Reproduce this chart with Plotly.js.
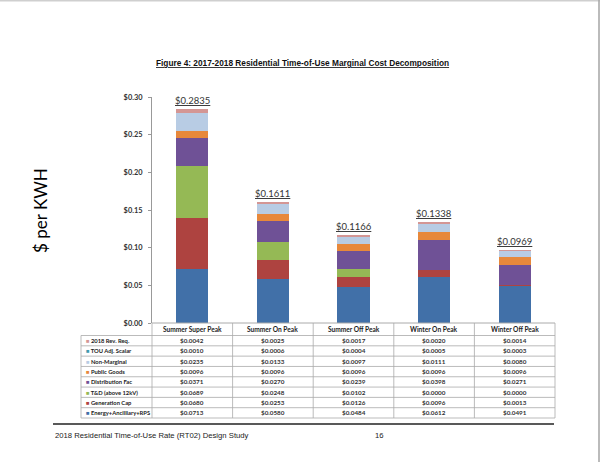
<!DOCTYPE html>
<html>
<head>
<meta charset="utf-8">
<script src="https://cdn.plot.ly/plotly-3.0.1.min.js"></script>
<style>
html,body{margin:0;padding:0;background:#fff;}
#chart{width:600px;height:462px;}
</style>
</head>
<body>
<div id="chart"></div>
<script>
// ---- data ----
var categories = ['Summer Super Peak','Summer On Peak','Summer Off Peak','Winter On Peak','Winter Off Peak'];
var energy      = [0.0713,0.0580,0.0484,0.0612,0.0491];
var genCap      = [0.0680,0.0253,0.0126,0.0096,0.0013];
var tdAbove     = [0.0689,0.0248,0.0102,0.0000,0.0000];
var distFac     = [0.0371,0.0270,0.0239,0.0398,0.0271];
var publicGoods = [0.0096,0.0096,0.0096,0.0096,0.0096];
var nonMarginal = [0.0235,0.0133,0.0097,0.0111,0.0080];
var touAdj      = [0.0010,0.0006,0.0004,0.0005,0.0003];
var revReq      = [0.0042,0.0025,0.0017,0.0020,0.0014];
var totals      = [0.2835,0.1611,0.1166,0.1338,0.0969];
var seriesNames = ['Energy+Ancilliary+RPS','Generation Cap','T&D (above 12kV)','Distribution Fac','Public Goods','Non-Marginal','TOU Adj. Scalar','2018 Rev. Req.'];
var yTickVals   = [0,0.05,0.10,0.15,0.20,0.25,0.30];

// ---- styling ----
var seriesValues = [energy,genCap,tdAbove,distFac,publicGoods,nonMarginal,touAdj,revReq];
var colors = ['#4170A8','#AE4340','#95B955','#6F5196','#E7883B','#B8CCE4','#3F9AAE','#D49694'];

var L=152, R=555, T=97, B=323;
var W=R-L, H=B-T;
function px(x){return (x-L)/W;}
function py(y){return (B-y)/H;}
function cx(i){return px(L + (i+0.5)*W/categories.length);}

var traces = seriesValues.map(function(vals,k){
  return {type:'bar', x:categories, y:vals, name:seriesNames[k],
    marker:{color:colors[k], line:{width:0}}, hoverinfo:'y+name'};
});

var annotations = [];
var shapes = [];
var fnt = 'Lato, "Noto Sans", sans-serif';

function ann(o){
  o.showarrow=false;
  if(!o.xanchor) o.xanchor='center';
  if(!o.yanchor) o.yanchor='middle';
  annotations.push(o);
}

// totals
totals.forEach(function(t,i){
  ann({x:categories[i], y:t, xref:'x', yref:'y', yanchor:'bottom', yshift:1,
    text:'<u>$'+t.toFixed(4)+'</u>', font:{family:fnt,size:9.5,color:'#333'}});
});

// table geometry
var headTop=323, headBot=335.5, tabBot=418, legL=81;
var rowH=(tabBot-headBot)/8;
var gridCol='#AAAAAA';

// header row text
categories.forEach(function(c,i){
  ann({x:cx(i), y:py((headTop+headBot)/2), xref:'paper', yref:'paper',
    text:'<b>'+c+'</b>', font:{family:fnt,size:6.6,color:'#222'}});
});

// rows: top-to-bottom order is reverse of stacking
for(var r=0;r<8;r++){
  var k=7-r;
  var yc = py(headBot + (r+0.5)*rowH);
  ann({x:px(legL+2.5), y:yc, xref:'paper', yref:'paper', xanchor:'left',
    text:'<span style="color:'+colors[k]+'">■</span><b> '+seriesNames[k]+'</b>',
    font:{family:fnt,size:5.8,color:'#222'}});
  for(var i=0;i<categories.length;i++){
    ann({x:cx(i), y:yc, xref:'paper', yref:'paper',
      text:'<b>$'+seriesValues[k][i].toFixed(4)+'</b>', font:{family:fnt,size:6.3,color:'#333'}});
  }
}

// horizontal grid lines
shapes.push({type:'line',xref:'paper',yref:'paper',x0:0,x1:1,y0:py(headTop),y1:py(headTop),line:{color:gridCol,width:1}});
for(var r=0;r<=8;r++){
  var yy=py(headBot+r*rowH);
  shapes.push({type:'line',xref:'paper',yref:'paper',x0:px(legL),x1:1,y0:yy,y1:yy,line:{color:gridCol,width:0.8}});
}
// vertical grid lines
shapes.push({type:'line',xref:'paper',yref:'paper',x0:px(legL),x1:px(legL),y0:py(headBot),y1:py(tabBot),line:{color:gridCol,width:0.8}});
for(var i=0;i<=categories.length;i++){
  var xx=px(L+i*W/categories.length);
  shapes.push({type:'line',xref:'paper',yref:'paper',x0:xx,x1:xx,y0:py(headTop),y1:py(tabBot),line:{color:gridCol,width:0.8}});
}

// title
ann({x:px(302), y:py(63), xref:'paper', yref:'paper',
  text:'<b><u>Figure 4: 2017-2018 Residential Time-of-Use Marginal Cost Decomposition</u></b>',
  font:{family:'"Liberation Sans", Arial, sans-serif', size:8.3, color:'#111'}});
// y title
ann({x:px(40), y:py(211), xref:'paper', yref:'paper', textangle:-90,
  text:'$ per KWH', font:{family:fnt,size:17,color:'#000'}});

// footer
shapes.push({type:'line',xref:'paper',yref:'paper',x0:px(53),x1:px(554),y0:py(424),y1:py(424),line:{color:'#222',width:1.6}});
ann({x:px(53), y:py(435), xref:'paper', yref:'paper', xanchor:'left',
  text:'2018 Residential Time-of-Use Rate (RT02) Design Study',
  font:{family:'"Liberation Sans", Arial, sans-serif', size:7.7, color:'#222'}});
ann({x:px(373), y:py(435), xref:'paper', yref:'paper', xanchor:'left',
  text:'16', font:{family:'"Liberation Sans", Arial, sans-serif', size:7.7, color:'#222'}});

// page frame
shapes.push({type:'line',xref:'paper',yref:'paper',x0:px(0),x1:px(600),y0:py(0.8),y1:py(0.8),line:{color:'#CFCFCF',width:1.6}});
shapes.push({type:'line',xref:'paper',yref:'paper',x0:px(599),x1:px(599),y0:py(0),y1:py(462),line:{color:'#AAAAAA',width:1.6}});

var layout = {
  width:600, height:462,
  margin:{l:L, r:600-R, t:T, b:462-B, pad:0},
  barmode:'stack', bargap:0.6,
  showlegend:false,
  paper_bgcolor:'#fff', plot_bgcolor:'#fff',
  xaxis:{type:'category', showticklabels:false, ticks:'', showgrid:false, zeroline:false, showline:false, range:[-0.5,4.5]},
  yaxis:{range:[0,0.30], tickmode:'array', tickvals:yTickVals,
    ticktext:yTickVals.map(function(v){return '<b>$'+v.toFixed(2)+'</b>';}),
    showgrid:false, zeroline:false,
    showline:true, linecolor:'#999', linewidth:1, ticks:'outside', ticklen:3, tickcolor:'#999',
    tickfont:{family:fnt,size:7.4,color:'#333'}, ticklabelstandoff:4},
  annotations:annotations,
  shapes:shapes,
  font:{family:fnt}
};

Plotly.newPlot('chart', traces, layout, {displayModeBar:false, staticPlot:true});
</script>
</body>
</html>
